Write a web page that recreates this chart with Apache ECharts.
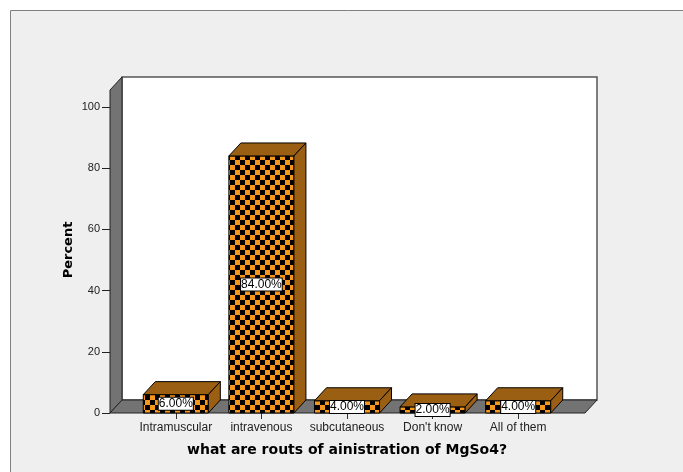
<!DOCTYPE html>
<html><head><meta charset="utf-8">
<style>html,body{margin:0;padding:0;background:#fff}#c{width:683px;height:472px}</style>
<script src="https://cdn.jsdelivr.net/npm/echarts@6/dist/echarts.min.js"></script>
</head><body><div id="c"></div>
<script>
const categories = ['Intramuscular','intravenous','subcutaneous',"Don't know",'All of them'];
const percentValues = [6,84,4,2,4];
const yTicks = [0,20,40,60,80,100];

const pat = document.createElement('canvas');
pat.width = pat.height = 10;
const g = pat.getContext('2d');
g.fillStyle = '#F7981D'; g.fillRect(0,0,10,10);
g.fillStyle = '#000'; g.fillRect(0,0,5,5); g.fillRect(5,5,5,5);

const DX = 12, DY = 13, SIDE = '#9A5F12', WALL = '#737373';
const chart = echarts.init(document.getElementById('c'), null, {renderer:'canvas'});

function walls(params, api){
  const o = api.coord([0,0]);
  const L = 110, R = 585, B = o[1], T = 90;
  return {type:'group', children:[
    {type:'rect', shape:{x:L+DX,y:T-DY,width:R-L,height:B-T}, style:{fill:'#fff',stroke:'#555',lineWidth:1.5}},
    {type:'polygon', shape:{points:[[L,T],[L+DX,T-DY],[L+DX,B-DY],[L,B]]}, style:{fill:WALL,stroke:'#222',lineWidth:1}},
    {type:'polygon', shape:{points:[[L,B],[L+DX,B-DY],[R+DX,B-DY],[R,B]]}, style:{fill:WALL,stroke:'#222',lineWidth:1}}
  ]};
}
function bars(params, api){
  const v = api.value(1), c = api.coord([api.value(0), v]), o = api.coord([api.value(0), 0]);
  const w = api.size([1,0])[0]*0.76, x = c[0]-w/2, y = c[1], h = o[1]-c[1];
  const line = {stroke:'#000',lineWidth:1};
  return {type:'group', children:[
    {type:'rect', shape:{x,y,width:w,height:h}, style:{fill:{image:pat,repeat:'repeat'},...line}},
    {type:'polygon', shape:{points:[[x,y],[x+DX,y-DY],[x+w+DX,y-DY],[x+w,y]]}, style:{fill:SIDE,...line}},
    {type:'polygon', shape:{points:[[x+w,y],[x+w+DX,y-DY],[x+w+DX,y+h-DY],[x+w,y+h]]}, style:{fill:SIDE,...line}},
    {type:'text', x:c[0], y:y+h/2, style:{text:v.toFixed(2)+'%',align:'center',verticalAlign:'middle',
      font:'12px "Liberation Sans"',fill:'#000',backgroundColor:'#fff',borderColor:'#000',borderWidth:1,padding:[0,0,0,0]}}
  ]};
}
chart.setOption({
  animation:false,
  backgroundColor:'#fff',
  graphic:[{type:'rect',z:-10,shape:{x:10.5,y:10.5,width:700,height:500},style:{fill:'#EFEFEF',stroke:'#808080',lineWidth:1}}],
  grid:{left:133,width:428,top:107,height:306},
  xAxis:{type:'category',data:categories,
    axisLine:{show:false},
    axisTick:{show:true,alignWithLabel:true,length:6,lineStyle:{color:'#333'}},
    axisLabel:{fontFamily:'Liberation Sans',fontSize:12,color:'#222',margin:9,interval:0},
    name:'what are routs of ainistration of MgSo4?',nameLocation:'middle',nameGap:30,
    nameTextStyle:{fontFamily:'DejaVu Sans',fontWeight:'bold',fontSize:14,color:'#000'}},
  yAxis:{type:'value',min:yTicks[0],max:yTicks[yTicks.length-1],interval:yTicks[1]-yTicks[0],offset:23,
    axisLine:{show:false},splitLine:{show:false},
    axisTick:{show:true,length:8,lineStyle:{color:'#222'}},
    axisLabel:{fontFamily:'Liberation Sans',fontSize:11,color:'#222',margin:10},
    name:'Percent',nameLocation:'middle',nameGap:35,nameMoveOverlap:false,
    nameTextStyle:{fontFamily:'DejaVu Sans',fontWeight:'bold',fontSize:13,color:'#000',padding:[0,0,0,20]}},
  series:[
    {type:'custom',renderItem:walls,data:[[0,0]],silent:true,z:1,clip:false},
    {type:'custom',renderItem:bars,data:categories.map((c,i)=>[i,percentValues[i]]),encode:{x:0,y:1},z:2,clip:false}
  ]
});
</script></body></html>
